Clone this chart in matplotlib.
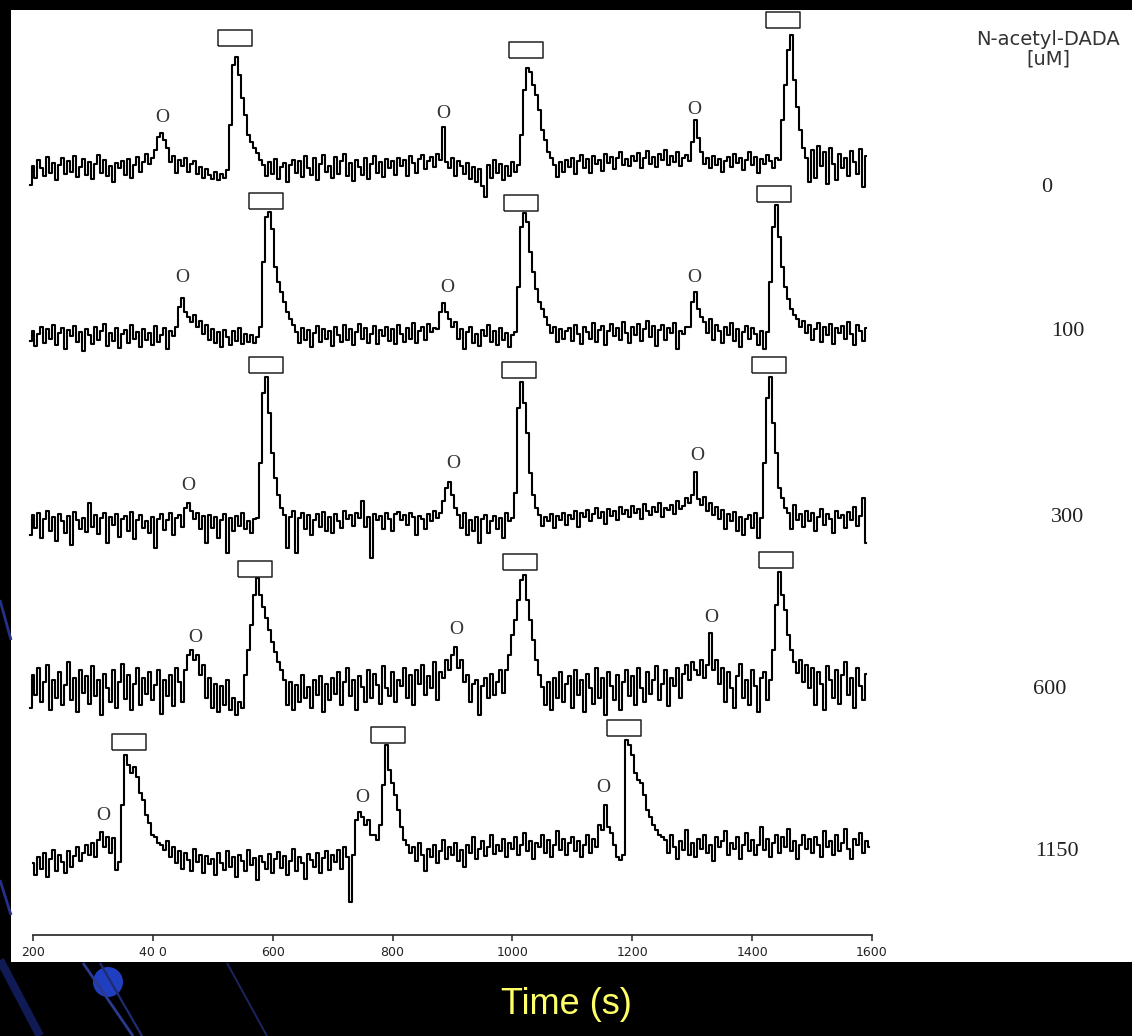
import numpy as np
import matplotlib
matplotlib.use("Agg")
import matplotlib.pyplot as plt
from matplotlib.patches import Rectangle, Circle

W, H = 1132, 1036

# sample times (s) of the electropherograms
T_TOP = np.arange(195, 1591, 5)     # traces 0..600 uM
T_LOW = np.arange(200, 1596, 5)     # trace 1150 uM

CONC_LABELS = ["0", "100", "300", "600", "1150"]
TICKS = [200, 400, 600, 800, 1000, 1200, 1400, 1600]
TICK_LABELS = ["200", "40 0", "600", "800", "1000", "1200", "1400", "1600"]

# detector signal, arbitrary units above each trace's own baseline
TRACE_0 = [
    -15, 4, -8, 10, 2, -6, 13, -3, 7, -10, 5, 12, -4, 9, -2, 14, -7, 3, 11, -5,
    8, -9, 6, 15, -3, 10, -6, 4, -12, 7, 2, 9, -5, 11, -8, 5, 13, -2, 8, 16,
    6, 12, 20, 33, 37, 30, 22, 8, 14, -3, 10, 4, 12, -2, 6, 9, -4, 3, -8, 1,
    -5, -9, -2, -10, -4, -8, 0, 45, 105, 113, 95, 72, 55, 35, 28, 22, 17, 10, 5, -6,
    8, -4, 11, -9, 3, 7, -12, 5, 10, -3, 9, -7, 14, 2, -5, 12, -10, 6, 15, -2,
    4, -8, 13, -4, 9, 16, -6, 7, -11, 10, 3, -5, 12, -9, 6, 14, -3, 8, -7, 11,
    2, 9, -5, 12, 4, 10, -6, 14, 7, -3, 11, 15, 1, 9, 13, 3, 16, 10, 43, 8,
    2, 12, -6, 9, 4, -4, 7, -9, 3, -12, 1, -16, -27, 5, -8, 10, -3, 6, -10, 4,
    -6, 8, -2, 5, 35, 80, 102, 98, 85, 75, 60, 40, 30, 18, 12, 5, -7, 8, -2, 10,
    3, 12, -4, 9, 15, 2, 11, -3, 14, 6, 10, -1, 16, 7, 13, 1, 12, 18, 5, 11,
    4, 14, 9, 17, 2, 12, 19, 6, 13, 3, 16, 10, 20, 5, 14, 8, 18, 4, 12, 15,
    9, 28, 50, 32, 18, 6, 12, 2, 14, 5, 11, -2, 9, 13, 3, 16, 7, 12, 0, 10,
    18, 5, 13, -3, 11, 6, 15, 9, 2, 12, 10, 50, 85, 120, 135, 90, 63, 40, 22, 12,
    -12, 20, -8, 24, 4, 18, -14, 22, 6, -10, 16, 2, 12, -6, 19, 8, -4, 21, -17, 14,
]
TRACE_100 = [
    -4, 6, -9, 3, 10, -6, 8, -2, 12, -8, 4, 9, -12, 7, 1, 11, -5, 5, -14, 8,
    2, -7, 10, -3, 6, 13, -9, 4, -4, 9, -11, 3, 7, -6, 12, -2, 5, -10, 8, -3,
    4, -8, 11, -5, 2, 9, -12, 6, 1, 10, 30, 39, 25, 20, 15, 22, 10, 16, 3, 12,
    -3, 8, -6, 5, -10, 7, 0, -8, 6, -4, 9, -7, 3, -5, 2, -6, 0, 10, 75, 120,
    125, 108, 70, 55, 45, 35, 25, 18, 12, 5, -6, 9, -3, 7, -10, 4, 11, -5, 8, -2,
    6, -9, 10, 2, -5, 12, -3, 8, -8, 5, 13, -2, 9, -6, 3, 11, -7, 7, 1, 10,
    -4, 8, -7, 12, 3, -5, 9, -2, 14, -6, 6, 10, -3, 13, 5, 9, 8, 25, 34, 25,
    18, 10, 15, -2, 8, -12, 5, 10, -6, 3, -9, 7, 1, 12, -5, 6, -8, 9, -3, 4,
    -10, 2, 5, 50, 110, 124, 115, 85, 65, 48, 35, 28, 20, 12, 4, 10, -5, 8, -2, 6,
    9, -4, 12, 3, -7, 10, 5, -2, 14, -5, 7, 11, -8, 6, 13, 1, 9, -3, 15, 4,
    -6, 10, 2, 13, -4, 8, 16, 0, 11, -9, 7, 12, -3, 9, 4, 14, -12, 6, 3, 10,
    10, 35, 45, 28, 20, 15, 4, 18, -3, 12, 6, -6, 10, 2, 14, -4, 8, -10, 5, 11,
    -2, 9, 3, -8, 6, -12, 5, 55, 110, 132, 100, 70, 50, 38, 28, 22, 18, 10, 16, 4,
    12, -3, 8, 14, -5, 10, 2, 13, -7, 9, 4, 11, -2, 15, 3, -8, 12, 6, -4, 9,
]
TRACE_300 = [
    -12, 8, -5, 10, -15, 4, 12, -8, 6, -18, 9, 2, -10, 7, -22, 11, 3, -6, 5, -9,
    20, -4, 8, -11, 5, 10, -20, 6, -2, 9, -14, 4, 7, -8, 11, -16, 3, 8, -5, 2,
    -10, 6, -25, 4, 9, -7, 3, 10, -12, 5, 8, -4, 15, 20, 12, 4, 10, -6, 7, -20,
    8, -5, 6, -15, 3, 9, -30, 5, -8, 7, -3, 10, -6, 2, -10, 4, 5, 60, 130, 146,
    110, 70, 45, 28, 15, 8, -25, 6, 12, -30, 5, 10, -6, 8, -12, 3, 9, -4, 11, -8,
    6, -10, 9, 2, -5, 12, 4, 8, -3, 10, 5, 22, -4, 6, -35, 9, 3, 7, -6, 10,
    4, -8, 9, 11, 3, 8, -2, 10, 6, -12, 7, 4, -6, 9, 2, 12, 5, 10, 22, 35,
    41, 28, 15, 8, -5, 10, -12, 3, -8, 6, -20, 4, 8, -10, 2, 7, -6, 5, -15, 10,
    2, 5, 30, 115, 141, 120, 90, 50, 28, 15, 8, -3, 6, 2, 9, -5, 7, 3, 10, -2,
    8, 4, 12, -4, 10, 6, 13, 2, 9, 15, 5, 11, -1, 14, 7, 12, 3, 16, 9, 13,
    6, 17, 10, 14, 4, 19, 12, 8, 16, 11, 20, 6, 15, 13, 18, 9, 22, 14, 17, 25,
    20, 28, 51, 24, 18, 26, 12, 20, 8, 16, 4, 13, -6, 9, 2, 11, -8, 6, -12, 4,
    8, -5, 10, -15, 5, 60, 125, 146, 100, 70, 35, 25, 15, 10, -6, 18, 3, 9, -4, 12,
    2, 10, -8, 6, 14, -2, 9, 4, -10, 12, 5, 8, -5, 11, 3, 16, -3, 7, 25, -20,
]
TRACE_600 = [
    -18, 15, -5, 22, -12, 8, 25, -20, 10, -8, 18, -15, 5, 28, -10, 12, -22, 20, -3, 14,
    -14, 24, -6, 10, -25, 16, 2, -12, 20, -18, 8, 26, -9, 15, -20, 6, 22, -15, 12, -4,
    18, -10, 5, 20, -24, 10, -6, 15, -16, 22, 8, -12, 20, 35, 40, 30, 35, 15, 25, -8,
    12, -18, 6, -22, 4, -15, 10, -20, -8, -25, -12, -18, 15, 40, 65, 95, 112, 95, 83, 72,
    60, 48, 38, 28, 20, 10, -15, 8, -20, 5, -12, 15, -8, 3, -18, 10, -5, 14, -22, 6,
    -10, 12, -4, 18, -15, 8, 22, -6, 10, -20, 14, 3, -12, 20, -8, 16, 5, -14, 24, 2,
    -6, 18, -12, 10, 4, 22, -8, 15, -15, 20, 6, 25, -5, 14, 2, 28, -10, 18, 12, 30,
    20, 35, 43, 22, 30, 8, 15, -12, 6, 10, -25, 4, 12, -8, 16, -5, 8, 20, -3, 20,
    35, 55, 70, 90, 110, 115, 90, 70, 50, 30, 15, 3, -15, 8, -20, 12, -8, 18, -12, 6,
    14, -18, 20, -5, 10, -22, 16, 2, -14, 22, -8, 12, -25, 18, 4, -10, 15, -20, 8, 20,
    -6, 14, -15, 22, 2, -12, 18, -4, 10, 24, -10, 6, 20, -16, 12, 4, 22, -8, 16, 25,
    10, 28, 20, 15, 30, 12, 25, 57, 20, 30, 6, 22, -12, 18, 2, -18, 14, 26, -8, 10,
    -15, 20, 4, -22, 12, 18, -10, 10, 40, 85, 118, 95, 80, 55, 40, 28, 17, 30, 8, 25,
    2, 22, -15, 18, 6, -20, 24, 10, -8, 20, -14, 15, 28, -5, 12, -18, 22, 4, -10, 16,
]
TRACE_1150 = [
    2, -10, 8, -4, 12, -12, 6, 15, -6, 10, 3, -8, 14, -2, 9, 18, 4, 12, 20, 10,
    22, 8, 25, 33, 18, 28, 12, 27, -5, 3, 60, 110, 100, 92, 98, 88, 72, 65, 50, 42,
    30, 28, 22, 20, 15, 24, 8, 18, 2, 14, -4, 12, 5, -6, 16, 3, 10, -8, 9, 1,
    6, -10, 12, 2, -5, 14, -2, 8, -12, 10, 4, -6, 15, 0, 7, -15, 9, 3, -4, 11,
    -8, 6, 13, -3, 9, -10, 4, 16, -6, 8, 2, -14, 11, 5, -2, 12, -8, 7, 14, -5,
    10, 3, 15, -4, 18, 8, -37, 10, 45, 53, 48, 40, 45, 30, 30, 25, 40, 80, 120, 95,
    82, 70, 55, 38, 25, 20, 12, 18, 4, 22, 10, -6, 16, 8, 20, 2, 14, 25, 6, 18,
    10, 22, 4, 15, -2, 20, 12, 28, 6, 16, 24, 9, 18, 30, 11, 20, 14, 26, 8, 22,
    16, 28, 10, 20, 32, 14, 24, 6, 22, 18, 30, 12, 25, 8, 20, 34, 15, 26, 10, 22,
    28, 14, 24, 8, 20, 30, 12, 26, 18, 40, 35, 60, 38, 32, 20, 8, 5, 10, 125, 120,
    110, 92, 85, 82, 70, 55, 48, 40, 35, 30, 28, 25, 12, 30, 18, 6, 24, 15, 35, 10,
    22, 8, 26, 16, 30, 12, 20, 4, 28, 18, 24, 34, 10, 22, 16, 28, 6, 20, 32, 14,
    25, 10, 20, 38, 15, 26, 8, 22, 30, 12, 28, 18, 36, 14, 24, 6, 20, 30, 16, 26,
    12, 28, 20, 8, 34, 18, 24, 10, 30, 14, 22, 36, 16, 6, 26, 20, 32, 12, 24, 18,
]

# stacking offset of each trace
OFFSETS = [765, 598, 412, 245, 70]

# labelled peaks: open square = main product, "O" = minor product
SQUARE_T = [[537, 1023, 1451], [589, 1014, 1437], [589, 1011, 1428],
            [571, 1013, 1440], [361, 792, 1186]]
SQUARE_Y = [[897, 885, 915], [734, 732, 741], [570, 565, 570],
            [366, 373, 375], [193, 200, 207]]
CIRCLE_T = [[415, 884, 1303], [449, 891, 1303], [459, 901, 1308],
            [470, 906, 1331], [318, 749, 1151]]
CIRCLE_Y = [[818, 822, 825], [657, 648, 658], [450, 472, 480],
            [298, 305, 317], [120, 138, 147]]

traces = [TRACE_0, TRACE_100, TRACE_300, TRACE_600, TRACE_1150]
times = [T_TOP, T_TOP, T_TOP, T_TOP, T_LOW]
for tr, tt in zip(traces, times):
    assert len(tr) == len(tt)

fig = plt.figure(figsize=(W / 100, H / 100), dpi=100, facecolor="black")

# slide background and white figure panel
bg = fig.add_axes([0, 0, 1, 1], zorder=0)
bg.set_xlim(0, W)
bg.set_ylim(H, 0)
bg.axis("off")
bg.set_facecolor("black")
for (x0, y0, x1, y1, c, lw) in [(83, 963, 133, 1036, "#2b3a8c", 2.0),
                                (100, 963, 142, 1036, "#1f2b70", 1.6),
                                (227, 963, 267, 1036, "#1a2460", 1.4),
                                (0, 600, 11, 640, "#24308a", 2.0),
                                (0, 880, 11, 915, "#24308a", 2.0),
                                (0, 960, 40, 1036, "#101a55", 6.0)]:
    bg.plot([x0, x1], [y0, y1], color=c, lw=lw, solid_capstyle="butt")
bg.add_patch(Circle((108, 982), 15, color="#1f3fc0", ec="none"))
bg.add_patch(Rectangle((11, 10), W - 11, 952, facecolor="white", edgecolor="none"))

ax = fig.add_axes([33 / W, 101 / H, 839 / W, 925 / H], zorder=1)
ax.patch.set_alpha(0)
ax.set_xlim(200, 1600)
ax.set_ylim(0, 925)

for tr, tt, off in zip(traces, times, OFFSETS):
    ax.plot(tt, np.array(tr) + off, color="black", lw=1.5,
            drawstyle="steps-mid", clip_on=False)

box = [(-1, -0.45), (1, -0.45), (1, 0.45), (-1, 0.45), (-1, -0.45)]
for st, sy, ct, cy in zip(SQUARE_T, SQUARE_Y, CIRCLE_T, CIRCLE_Y):
    ax.plot(st, sy, ls="none", marker=box, ms=24, mfc="white",
            mec="#222222", mew=1.1, clip_on=False)
    for t, y in zip(ct, cy):
        ax.text(t, y, "O", ha="center", va="center", fontsize=14,
                family="Liberation Serif", color="#333333")

for side in ["top", "left", "right"]:
    ax.spines[side].set_visible(False)
ax.spines["bottom"].set_color("#222222")
ax.spines["bottom"].set_linewidth(1.2)
ax.set_yticks([])
ax.set_xticks(TICKS)
ax.set_xticklabels(TICK_LABELS, fontsize=9, color="#222222")
ax.tick_params(axis="x", length=4.5, width=1.1, color="#222222", pad=3.5)

# concentration labels on the right
for lab, (x, y) in zip(CONC_LABELS, [(1047, 187), (1068, 331), (1068, 517),
                                     (1050, 690), (1057, 851)]):
    fig.text(x / W, 1 - y / H, lab, ha="center", va="center", fontsize=16,
             family="Liberation Serif", color="#222222")

fig.text(1048 / W, 1 - 49 / H, "N-acetyl-DADA\n[uM]", ha="center", va="center",
         fontsize=14, color="#333333", linespacing=1.05)

fig.text(566 / W, 1 - 1005 / H, "Time (s)", ha="center", va="center",
         fontsize=26, family="Liberation Sans", color="#ffff66")

fig.savefig("out.png", dpi=100, facecolor="black")
